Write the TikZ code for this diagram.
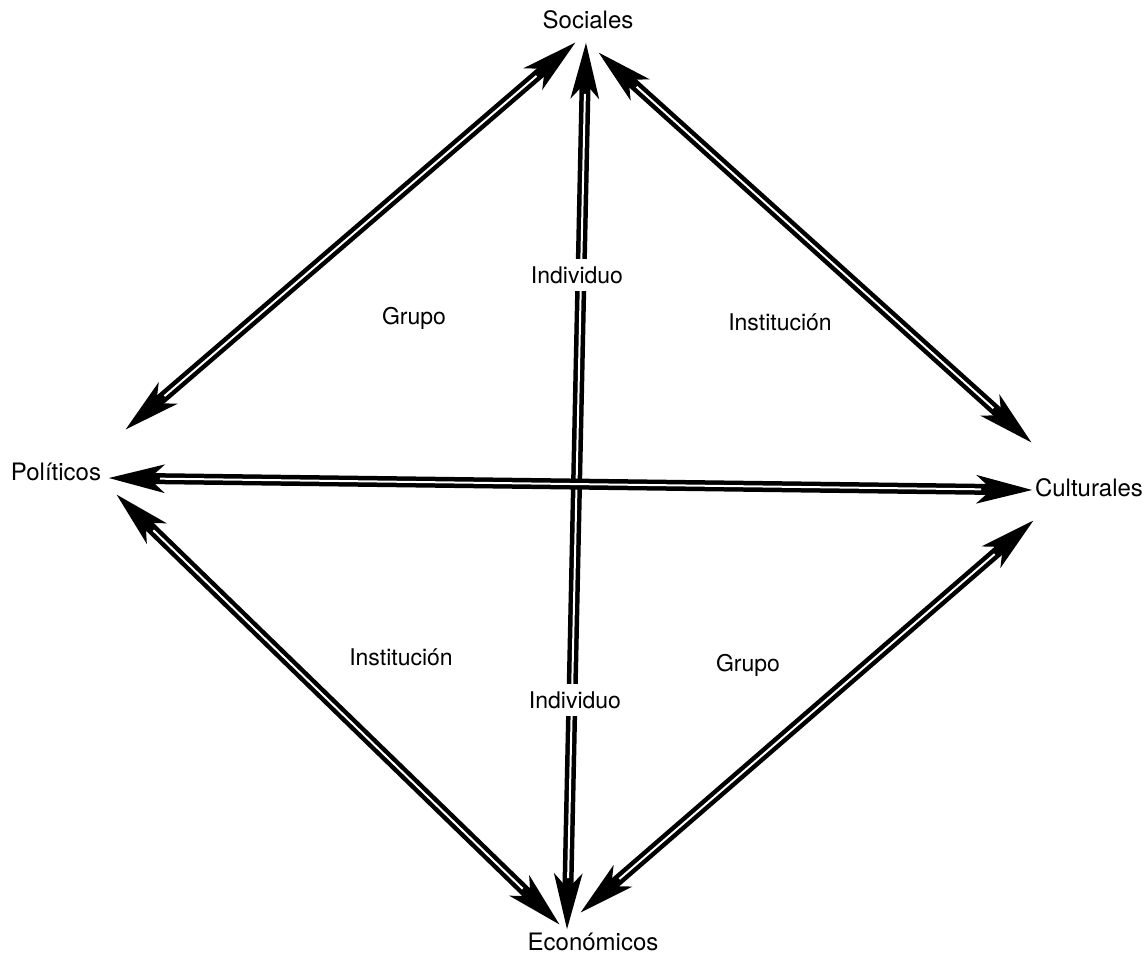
\documentclass[tikz,border=0pt]{standalone}
\usepackage{fontspec}
\setmainfont{TeX Gyre Heros}
\usetikzlibrary{arrows.meta}
\tikzset{
    lbl/.style={
        font=\fontsize{24}{28}\selectfont,
        inner sep=2pt
    },
    tag/.style={
        font=\fontsize{23}{27}\selectfont,
        inner xsep=2pt,
        inner ysep=7pt
    },
    dline/.style={
        line width=11pt,
        {Stealth[length=55pt, width=27pt, inset=14pt]}-{Stealth[length=55pt, width=27pt, inset=14pt]},
        postaction={draw=white, line width=2pt, -, shorten <=52pt, shorten >=52pt}
    }
}
\begin{document}
\begin{tikzpicture}[x=1pt, y=-1pt]
\useasboundingbox (0,0) rectangle (1147,958);

% the four corners
\node[lbl] (soc) at (588,20) {Sociales};
\node[lbl] (pol) at (56,472) {Políticos};
\node[lbl] (cul) at (1089,488) {Culturales};
\node[lbl] (eco) at (593,942) {Económicos};

% arrow ends
\coordinate (socL) at (576,42);
\coordinate (socM) at (586,42);
\coordinate (socR) at (598,52);
\coordinate (polU) at (125,430);
\coordinate (polM) at (108,478);
\coordinate (polD) at (116,494);
\coordinate (culU) at (1032,443);
\coordinate (culM) at (1033,490);
\coordinate (culD) at (1034,520);
\coordinate (ecoL) at (560,925);
\coordinate (ecoM) at (567,930);
\coordinate (ecoR) at (580,913);

\draw[dline] (polU) -- (socL);
\draw[dline] (socR) -- (culU);
\draw[dline] (polD) -- (ecoL);
\draw[dline] (ecoR) -- (culD);
\draw[dline] (socM) -- (ecoM);
\draw[dline] (polM) -- (culM);

% labels inside
\node[tag, fill=white] (ind1) at (577,275) {Individuo};
\node[tag, fill=white] (ind2) at (575,700) {Individuo};
\node[tag] (gru1) at (414,318) {Grupo};
\node[tag] (ins1) at (780,322) {Institución};
\node[tag] (ins2) at (401,657) {Institución};
\node[tag] (gru2) at (748,665) {Grupo};
\end{tikzpicture}
\end{document}
